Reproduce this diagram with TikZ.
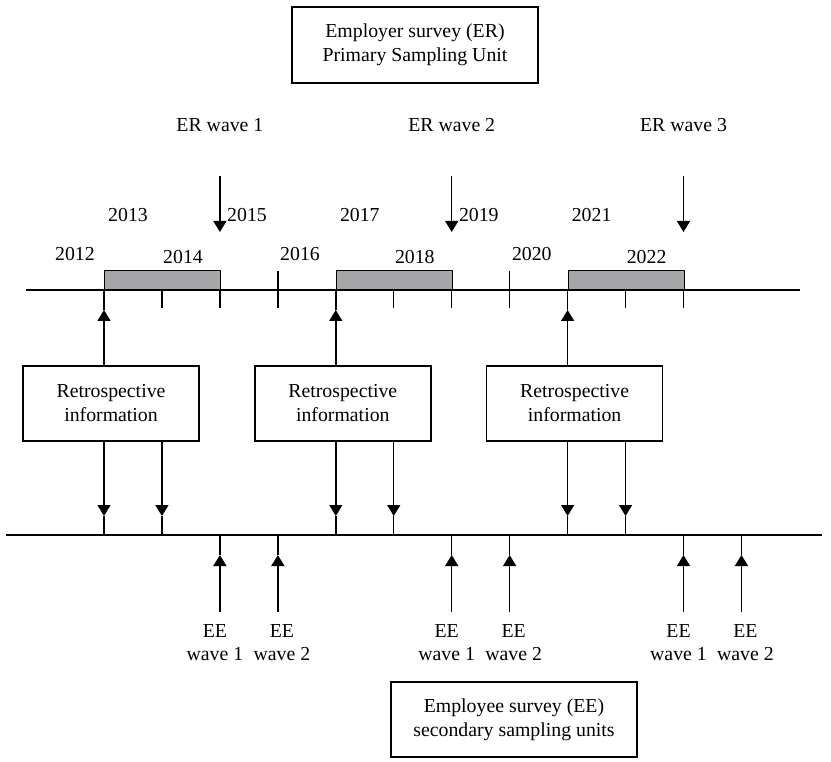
\documentclass[tikz,border=0pt]{standalone}
\usepackage{fontspec}
\setmainfont{Liberation Serif}
\usetikzlibrary{arrows.meta}
\definecolor{bargray}{RGB}{166,166,168}
\begin{document}
\begin{tikzpicture}[x=1pt,y=-1pt,
  ln/.style={line width=1.4pt},
  boxed/.style={draw,line width=1.4pt,inner sep=0pt,align=center,font=\fontsize{19.8}{24}\selectfont},
  lbl/.style={inner sep=0pt,align=center,font=\fontsize{19.8}{23}\selectfont},
  bar/.style={draw,line width=1.4pt,fill=bargray,inner sep=0pt},
  tip/.style={line width=1.4pt,-{Triangle[width=13pt,length=11pt]}},
]
\useasboundingbox (0,0) rectangle (831,762);

% top box
\node[boxed,minimum width=246pt,minimum height=76pt] (er) at (415,45) {Employer survey (ER)\\Primary Sampling Unit};
% bottom box
\node[boxed,minimum width=246pt,minimum height=75pt] (ee) at (514,719.5) {Employee survey (EE)\\secondary sampling units};

% timelines
\coordinate (tl) at (26,290);
\coordinate (tr) at (800,290);
\coordinate (ll) at (6,535);
\coordinate (lr) at (822,535);
\draw[ln] (tl) -- (tr);
\draw[ln] (ll) -- (lr);

\node[lbl] (y2012) at (75,254) {2012};

\foreach \i in {0,1,2} {
  \pgfmathsetmacro\bx{104+231.8*\i}
  \pgfmathsetmacro\bxa{\bx+57.95}
  \pgfmathsetmacro\bxb{\bx+115.9}
  \pgfmathsetmacro\bxc{\bx+173.85}
  \pgfmathtruncatemacro\wv{\i+1}
  \pgfmathtruncatemacro\ya{2013+4*\i}
  \pgfmathtruncatemacro\yb{2014+4*\i}
  % bar
  \node[bar,minimum width=115.9pt,minimum height=19pt,anchor=south west] (bar\i) at (\bx,290) {};
  % ticks
  \coordinate (ta\i) at (\bxa,290);
  \coordinate (tb\i) at (\bxa,308);
  \draw[ln] (ta\i) -- (tb\i);
  \coordinate (tc\i) at (\bxb,290);
  \coordinate (td\i) at (\bxb,308);
  \draw[ln] (tc\i) -- (td\i);
  % ER wave
  \node[lbl] (erw\i) at (\bxb,125) {ER wave \wv};
  \coordinate (es\i) at (\bxb,176);
  \coordinate (et\i) at (\bxb,232);
  \draw[tip] (es\i) -- (et\i);
  % years
  \node[lbl] (ya\i) at (\bx+24,215) {\ya};
  \node[lbl] (yb\i) at (\bx+79,257) {\yb};
  % retrospective box
  \node[boxed,minimum width=176pt,minimum height=75pt] (ret\i) at (\bx+7,403.5) {Retrospective\\information};
  % up arrow to top line
  \coordinate (ua\i) at (\bx,290);
  \coordinate (ut\i) at (\bx,310);
  \draw[tip] (ret\i.north -| ua\i) -- (ut\i);
  \draw[ln] (ut\i) -- (ua\i);
  % down arrows to lower line
  \coordinate (da\i) at (\bx,535);
  \coordinate (dt\i) at (\bx,516);
  \draw[tip] (ret\i.south -| da\i) -- (dt\i);
  \draw[ln] (dt\i) -- (da\i);
  \coordinate (db\i) at (\bxa,535);
  \coordinate (dbt\i) at (\bxa,516);
  \draw[tip] (ret\i.south -| db\i) -- (dbt\i);
  \draw[ln] (dbt\i) -- (db\i);
  % EE arrows
  \coordinate (ea\i) at (\bxb,535);
  \coordinate (eat\i) at (\bxb,555);
  \coordinate (eas\i) at (\bxb,612);
  \draw[tip] (eas\i) -- (eat\i);
  \draw[ln] (eat\i) -- (ea\i);
  \node[lbl] (eea\i) at (\bxb-5,643) {EE\\wave 1};
  \coordinate (eb\i) at (\bxc,535);
  \coordinate (ebt\i) at (\bxc,555);
  \coordinate (ebs\i) at (\bxc,612);
  \draw[tip] (ebs\i) -- (ebt\i);
  \draw[ln] (ebt\i) -- (eb\i);
  \node[lbl] (eeb\i) at (\bxc+4,643) {EE\\wave 2};
}

% tall ticks and remaining year labels
\foreach \i in {0,1} {
  \pgfmathsetmacro\bx{104+231.8*\i}
  \pgfmathtruncatemacro\yc{2015+4*\i}
  \pgfmathtruncatemacro\yd{2016+4*\i}
  \coordinate (tt\i) at (\bx+173.85,271);
  \coordinate (tu\i) at (\bx+173.85,308);
  \draw[ln] (tt\i) -- (tu\i);
  \node[lbl] (yc\i) at (\bx+143,215) {\yc};
  \node[lbl] (yd\i) at (\bx+196,254) {\yd};
}
\end{tikzpicture}
\end{document}
